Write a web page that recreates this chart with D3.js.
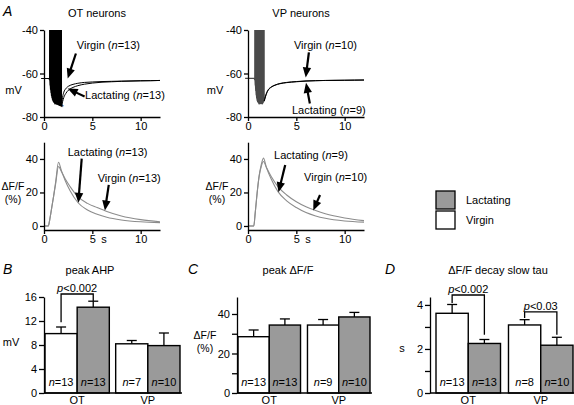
<!DOCTYPE html>
<html><head><meta charset="utf-8">
<script src="https://cdn.jsdelivr.net/npm/d3@7"></script>
<style>
body{margin:0;background:#fff}
svg{display:block;font-family:"Liberation Sans",Arial,Helvetica,sans-serif;font-size:11px}
</style></head><body>
<svg id="c" width="574" height="405"></svg>
<script>
// ---------------- DATA ----------------
// Panel A: membrane potential (mV) traces
const otSpikeTimes   = [0.58,0.63,0.68,0.73,0.78,0.83,0.88,0.93,0.98,1.03,1.08,1.13,1.18,1.23,1.28,1.33,1.38,1.43,1.48,1.53,1.58,1.63,1.68,1.73,1.78];
const otSpikeTroughs = [-63,-65.5,-67.5,-69,-70.3,-71.2,-72,-72.6,-73,-73.3,-73.5,-73.6,-73.7,-73.8,-73.9,-74,-74,-74.1,-74.2,-74.3,-74.4,-74.5,-74.6,-74.7,-74.8];
const otBaseline = -62.3;
const otRecT        = [1.82,1.92,2.05,2.25,2.55,3.0,3.5,4.2,5,6,7,8,9,10,11,12];
const otRecVirgin   = [-74.8,-71,-68.6,-67,-65.8,-65,-64.5,-64.1,-63.9,-63.7,-63.6,-63.5,-63.4,-63.3,-63.3,-63.2];
const otRecLact     = [-74.8,-73,-71,-69.2,-67.6,-66.4,-65.6,-64.9,-64.4,-64.0,-63.8,-63.6,-63.5,-63.4,-63.3,-63.2];

const vpSpikeTimes   = [0.70,0.75,0.80,0.85,0.90,0.95,1.00,1.05,1.10,1.15,1.20,1.25,1.30,1.35,1.40,1.45,1.50,1.55,1.60,1.65];
const vpSpikeTroughs = [-63,-65.5,-68,-70,-71.5,-72.5,-73,-73.4,-73.6,-73.7,-73.7,-73.7,-73.7,-73.6,-73.6,-73.5,-73.4,-73.2,-73,-72.6];
const vpBaseline = -62.2;
const vpRecT        = [1.68,1.8,1.95,2.1,2.4,2.8,3.3,4,5,6,7,8,9,10,11,12];
const vpRecVirgin   = [-72.6,-70.5,-68.6,-67.4,-66.2,-65.3,-64.6,-64.1,-63.7,-63.4,-63.3,-63.2,-63.1,-63.1,-63.0,-63.0];
const vpRecLact     = [-72.6,-70.8,-68.9,-67.6,-66.3,-65.4,-64.7,-64.2,-63.8,-63.5,-63.3,-63.2,-63.2,-63.1,-63.1,-63.0];

// Panel A: ΔF/F (%) traces
const dffT          = [0,0.45,0.6,0.8,1.0,1.2,1.5,1.8,2.2,2.7,3.5,4.5,5.5,6.5,8,10,12];
const otDffLact     = [0,0,4,11,18,26,38,33,27,21,14,9.5,7,5.2,3.6,2.5,2];
const otDffVirgin   = [0,0,4,11,18,25,35.5,32.5,28,23.5,17.5,13.5,11,8.7,6,3.8,2.5];
const vpDffT        = [0,0.6,0.75,0.95,1.15,1.35,1.6,1.9,2.4,3.1,4,5,6,7,8,10,12];
const vpDffLact     = [0,0,8,20,30,36,40.5,35,28,20.5,15,11,8,6,4.6,3,2.3];
const vpDffVirgin   = [0,0,8,20,29.5,35,38.5,35,29.5,23.5,18.5,14.5,11.5,9.2,7.3,4.8,3.2];

// Panel A annotations (label, text anchor point, arrow tail, arrow tip) in data units
const otVmNotes  = [{name:"Virgin", n:13, tx:3.4, ty:-48.7, x1:3.3, y1:-50.8, x2:2.45, y2:-62.3},
                    {name:"Lactating", n:13, tx:4.25, ty:-71.8, x1:4.2, y1:-70.6, x2:2.45, y2:-66.9}];
const vpVmNotes  = [{name:"Virgin", n:10, tx:4.75, ty:-48.7, x1:6.3, y1:-50.3, x2:5.97, y2:-61.8},
                    {name:"Lactating", n:9, tx:4.55, ty:-78.6, x1:6.4, y1:-73.8, x2:6.0, y2:-64.3}];
const otDffNotes = [{name:"Lactating", n:13, tx:2.45, ty:41.8, x1:3.9, y1:40.2, x2:3.55, y2:13.8},
                    {name:"Virgin", n:13, tx:5.55, ty:26.3, x1:6.7, y1:24.5, x2:6.3, y2:9.3}];
const vpDffNotes = [{name:"Lactating", n:9, tx:2.7, ty:40, x1:3.85, y1:36.4, x2:3.15, y2:20.1},
                    {name:"Virgin", n:10, tx:5.8, ty:26.9, x1:7.45, y1:18.5, x2:6.75, y2:9.3}];

// Panels B-D: bar data
const groups = ["OT","VP"];
const conditions = ["Virgin","Lactating"];
const ahpVirgin = [9.9, 8.2],   ahpVirginSem = [1.1, 0.55], ahpVirginN = [13, 7];
const ahpLact   = [14.3, 7.9],  ahpLactSem   = [1.0, 2.1],  ahpLactN   = [13, 10];
const dffVirgin = [28.5, 34.4], dffVirginSem = [3.4, 2.8],  dffVirginN = [13, 9];
const dffLact   = [34.4, 38.5], dffLactSem   = [3.1, 2.3],  dffLactN   = [13, 10];
const tauVirgin = [3.62, 3.09], tauVirginSem = [0.40, 0.24], tauVirginN = [13, 8];
const tauLact   = [2.25, 2.17], tauLactSem   = [0.18, 0.36], tauLactN   = [13, 10];
const legendLabels = ["Lactating","Virgin"];
const colorOf = {Virgin:"#ffffff", Lactating:"#9a9a9a"};

// ---------------- DRAWING ----------------
const svg = d3.select("#c");
const fmt = d => String(d);

function txt(g, x, y, s, opts={}) {
  const t = g.append("text").attr("x", x).attr("y", y).attr("fill", "#000")
    .attr("font-size", opts.size || 11).attr("text-anchor", opts.anchor || "start");
  if (opts.italic) t.attr("font-style", "italic");
  t.text(s);
  return t;
}
function nLabel(g, x, y, name, n, anchor) {
  const t = g.append("text").attr("x", x).attr("y", y).attr("font-size", 11)
    .attr("text-anchor", anchor || "start");
  if (name) t.append("tspan").text(name + " (");
  t.append("tspan").attr("font-style","italic").text("n");
  t.append("tspan").text("=" + n + (name ? ")" : ""));
  return t;
}
function arrow(g, x1, y1, x2, y2) {
  const dx = x2-x1, dy = y2-y1, L = Math.hypot(dx,dy), ux = dx/L, uy = dy/L;
  const hl = 10, hw = 4.2;
  const bx = x2 - ux*hl, by = y2 - uy*hl;
  g.append("line").attr("x1", x1).attr("y1", y1).attr("x2", bx+ux*1).attr("y2", by+uy*1)
    .attr("stroke", "#000").attr("stroke-width", 2.2);
  g.append("path").attr("d", `M${x2},${y2}L${bx - uy*hw},${by + ux*hw}L${bx + uy*hw},${by - ux*hw}Z`)
    .attr("fill", "#000");
}
function styleAxis(sel) {
  sel.selectAll(".domain").attr("stroke","#000").attr("stroke-width",1.3);
  sel.selectAll(".tick line").attr("stroke","#000").attr("stroke-width",1.3);
  sel.selectAll(".tick text").attr("font-size",11).attr("font-family","Liberation Sans, Arial, sans-serif").attr("fill","#000");
}

// ---- A: Vm panels ----
function vmPanel(x0, title, spikeT, spikeV, base, recT, recV, recL, notes, spikeColor, clipId, ylabX) {
  const x = d3.scaleLinear([0,12],[x0, x0+116]);
  const y = d3.scaleLinear([-80,-40],[117,30]);
  const g = svg.append("g");
  svg.append("clipPath").attr("id", clipId).append("rect")
    .attr("x", x0-6).attr("y", 30).attr("width", 130).attr("height", 100);
  // spike train
  const pts = [[-0.3, base],[spikeT[0]-0.06, base]];
  spikeT.forEach((t,i) => { pts.push([t, spikeV[i]]); pts.push([t+0.012, 20]); pts.push([t+0.024, spikeV[i]]); });
  g.append("path").attr("clip-path", `url(#${clipId})`)
    .attr("d", d3.line().x(d=>x(d[0])).y(d=>y(d[1]))(pts))
    .attr("fill","none").attr("stroke", spikeColor).attr("stroke-width",1.2);
  const ln = d3.line().x((d,i)=>x(recT[i])).y(d=>y(d)).curve(d3.curveMonotoneX);
  g.append("path").attr("d", ln(recV)).attr("fill","none").attr("stroke","#000").attr("stroke-width",1);
  g.append("path").attr("d", ln(recL)).attr("fill","none").attr("stroke","#000").attr("stroke-width",1);
  // axes
  const ay = g.append("g").attr("transform",`translate(${x0},0)`)
    .call(d3.axisLeft(y).tickValues([-80,-60,-40]).tickFormat(fmt).tickSize(4).tickSizeOuter(0).tickPadding(2));
  const ax = g.append("g").attr("transform",`translate(0,117)`)
    .call(d3.axisBottom(x).tickValues([0,5,10]).tickFormat(fmt).tickSize(4).tickSizeOuter(0).tickPadding(1));
  styleAxis(ay); styleAxis(ax);
  txt(g, ylabX, 94, "mV", {anchor:"middle"});
  txt(g, x0 + 53, 17, title, {anchor:"middle"});
  notes.forEach(nt => {
    nLabel(g, x(nt.tx), y(nt.ty), nt.name, nt.n);
    arrow(g, x(nt.x1), y(nt.y1), x(nt.x2), y(nt.y2));
  });
  return {x, y, g};
}
const otA = vmPanel(44, "OT neurons", otSpikeTimes, otSpikeTroughs, otBaseline, otRecT, otRecVirgin, otRecLact, otVmNotes, "#000", "clipOT", 13.5);
// asterisk at the trough
txt(otA.g, otA.x(1.85), otA.y(-74.8)+4, "*", {anchor:"middle", size:9});
vmPanel(248, "VP neurons", vpSpikeTimes, vpSpikeTroughs, vpBaseline, vpRecT, vpRecVirgin, vpRecLact, vpVmNotes, "#4a4a4a", "clipVP", 215);

// ---- A: ΔF/F panels ----
function dffPanel(x0, tArr, lact, virg, notes, ylabX) {
  const x = d3.scaleLinear([0,12],[x0, x0+116]);
  const y = d3.scaleLinear([-2.4,50],[230,142.2]);
  const g = svg.append("g");
  const ln = d3.line().x((d,i)=>x(tArr[i])).y(d=>y(d)).curve(d3.curveMonotoneX);
  g.append("path").attr("d", ln(virg)).attr("fill","none").attr("stroke","#8c8c8c").attr("stroke-width",1.1);
  g.append("path").attr("d", ln(lact)).attr("fill","none").attr("stroke","#8c8c8c").attr("stroke-width",1.1);
  const ay = g.append("g").attr("transform",`translate(${x0},0)`)
    .call(d3.axisLeft(y).tickValues([0,20,40]).tickFormat(fmt).tickSize(4).tickSizeOuter(0).tickPadding(2));
  const ax = g.append("g").attr("transform",`translate(0,230)`)
    .call(d3.axisBottom(x).tickValues([0,5,10]).tickFormat(fmt).tickSize(4).tickSizeOuter(0).tickPadding(1));
  styleAxis(ay); styleAxis(ax);
  txt(g, x(6.2), 243, "s", {anchor:"middle"});
  txt(g, ylabX, 190, "ΔF/F", {anchor:"middle", size:10.5});
  txt(g, ylabX, 202.5, "(%)", {anchor:"middle", size:10.5});
  notes.forEach(nt => {
    nLabel(g, x(nt.tx), y(nt.ty), nt.name, nt.n);
    arrow(g, x(nt.x1), y(nt.y1), x(nt.x2), y(nt.y2));
  });
}
dffPanel(44, dffT, otDffLact, otDffVirgin, otDffNotes, 13);
dffPanel(248, vpDffT, vpDffLact, vpDffVirgin, vpDffNotes, 217);

// panel letter A
txt(svg, 3, 16, "A", {italic:true, size:14});

// ---- Legend ----
const lg = svg.append("g");
legendLabels.forEach((lab,i) => {
  lg.append("rect").attr("x",436).attr("y",191 + i*20).attr("width",19).attr("height",18)
    .attr("fill", colorOf[lab]).attr("stroke","#000").attr("stroke-width",1.3);
  txt(lg, 466, 204 + i*20, lab);
});

// ---- Bar panels ----
function barPanel(opt) {
  const g = svg.append("g");
  const y = d3.scaleLinear([0, opt.ymax],[393, 297]);
  const xg = d3.scaleBand(groups, opt.range).paddingInner(opt.pad).paddingOuter(0);
  const xc = d3.scaleBand(conditions, [0, xg.bandwidth()]);
  const rows = [];
  groups.forEach((gr,i) => {
    rows.push({gr, c:"Virgin", v:opt.virg[i], s:opt.virgSem[i], n:opt.virgN[i]});
    rows.push({gr, c:"Lactating", v:opt.lact[i], s:opt.lactSem[i], n:opt.lactN[i]});
  });
  const cx = d => xg(d.gr) + xc(d.c) + xc.bandwidth()/2;
  // error bars (upwards only)
  rows.forEach(d => {
    g.append("line").attr("x1",cx(d)).attr("x2",cx(d)).attr("y1",y(d.v)).attr("y2",y(d.v+d.s))
      .attr("stroke","#000").attr("stroke-width",1.3);
    g.append("line").attr("x1",cx(d)-5).attr("x2",cx(d)+5).attr("y1",y(d.v+d.s)).attr("y2",y(d.v+d.s))
      .attr("stroke","#000").attr("stroke-width",1.3);
  });
  g.selectAll("rect.bar").data(rows).join("rect").attr("class","bar")
    .attr("x", d => xg(d.gr) + xc(d.c)).attr("width", xc.bandwidth())
    .attr("y", d => y(d.v)).attr("height", d => y(0) - y(d.v))
    .attr("fill", d => colorOf[d.c]).attr("stroke","#000").attr("stroke-width",1.4);
  rows.forEach(d => nLabel(g, cx(d), 386, null, d.n, "middle"));
  // axes
  const ay = g.append("g").attr("transform",`translate(${opt.ax},0)`)
    .call(d3.axisLeft(y).tickValues(opt.ticks).tickFormat(d => opt.labels.includes(d) ? fmt(d) : "")
      .tickSize(5).tickSizeOuter(0).tickPadding(2));
  styleAxis(ay);
  g.append("line").attr("x1",opt.ax).attr("x2",opt.xend).attr("y1",393).attr("y2",393)
    .attr("stroke","#000").attr("stroke-width",1.3);
  groups.forEach(gr => txt(g, xg(gr)+xg.bandwidth()/2, 404, gr, {anchor:"middle"}));
  txt(g, opt.titleX, 274, opt.title, {anchor:"middle"});
  txt(g, opt.letterX, 274, opt.letter, {italic:true, size:14});
  opt.ylab.forEach(l => txt(g, l.x, l.y, l.t, {anchor:"middle", size:l.size || 11}));
  // significance brackets
  (opt.brackets || []).forEach(b => {
    const i = groups.indexOf(b.group);
    const xl = cx(rows[2*i]), xr = cx(rows[2*i+1]);
    g.append("path").attr("d", `M${xl},${y(b.leftEnd)}V${y(b.top)}H${xr}V${y(b.rightEnd)}`)
      .attr("fill","none").attr("stroke","#000").attr("stroke-width",1.3);
    const t = g.append("text").attr("x",(xl+xr)/2).attr("y", y(b.top)-2).attr("text-anchor","middle").attr("font-size",11);
    t.append("tspan").attr("font-style","italic").text("p");
    t.append("tspan").text(b.label);
  });
}

barPanel({range:[45,180], pad:0.09, ax:44, xend:182, ymax:16, ticks:[0,4,8,12,16], labels:[0,4,8,12,16],
  virg:ahpVirgin, virgSem:ahpVirginSem, virgN:ahpVirginN, lact:ahpLact, lactSem:ahpLactSem, lactN:ahpLactN,
  title:"peak AHP", titleX:90, letter:"B", letterX:3, ylab:[{x:11,y:346,t:"mV"}],
  brackets:[{group:"OT", top:16.5, leftEnd:11.8, rightEnd:15.3, label:"<0.002"}]});

barPanel({range:[238,370], pad:0.1, ax:237, xend:372, ymax:48.6, ticks:[0,10,20,30,40], labels:[0,20,40],
  virg:dffVirgin, virgSem:dffVirginSem, virgN:dffVirginN, lact:dffLact, lactSem:dffLactSem, lactN:dffLactN,
  title:"peak ΔF/F", titleX:288, letter:"C", letterX:188,
  ylab:[{x:205,y:339,t:"ΔF/F",size:10.5},{x:205,y:351.5,t:"(%)",size:10.5}]});

barPanel({range:[436,573], pad:0.11, ax:430, xend:574, ymax:4.36, ticks:[0,1,2,3,4], labels:[0,2,4],
  virg:tauVirgin, virgSem:tauVirginSem, virgN:tauVirginN, lact:tauLact, lactSem:tauLactSem, lactN:tauLactN,
  title:"ΔF/F decay slow tau", titleX:498, letter:"D", letterX:385, ylab:[{x:402,y:352,t:"s"}],
  brackets:[{group:"OT", top:4.45, leftEnd:4.09, rightEnd:2.64, label:"<0.002"},
            {group:"VP", top:3.68, leftEnd:3.41, rightEnd:2.64, label:"<0.03"}]});
</script>
</body></html>
